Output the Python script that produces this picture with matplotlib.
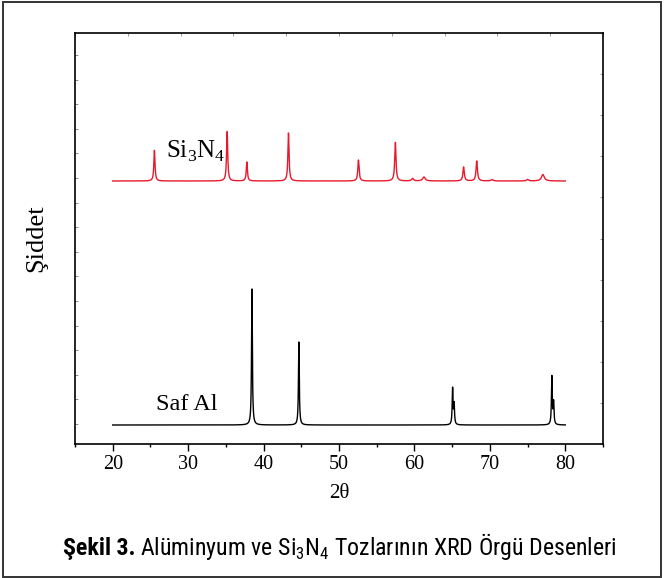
import numpy as np
import matplotlib
matplotlib.use("Agg")
import matplotlib.pyplot as plt
from matplotlib import font_manager
from matplotlib.font_manager import FontProperties
from matplotlib.patches import Rectangle
from matplotlib.ticker import MultipleLocator, FixedLocator

# ---------------- data ----------------
two_theta_start, two_theta_end, two_theta_step = 20.0, 80.0, 0.02

# Pure Al (black): baseline and peaks (position, height above baseline, FWHM)
al_baseline = 19.0
al_pos    = [38.46, 44.68, 65.06, 65.26, 78.22, 78.45]
al_height = [136.0, 83.0, 36.0, 20.0, 48.0, 22.0]
al_fwhm   = [0.13, 0.13, 0.13, 0.13, 0.13, 0.13]

# Si3N4 (red)
sn_baseline = 263.0
sn_pos    = [25.53, 35.17, 37.78, 43.30, 52.58, 57.47, 59.76, 61.26, 66.52, 68.26, 70.3, 75.0, 77.03]
sn_height = [31.0, 50.0, 19.0, 48.0, 21.0, 39.0, 2.5, 4.0, 14.0, 20.0, 1.5, 1.5, 6.5]
sn_fwhm   = [0.18, 0.18, 0.18, 0.18, 0.20, 0.20, 0.3, 0.4, 0.22, 0.22, 0.3, 0.3, 0.45]

x_ticks = [20, 30, 40, 50, 60, 70, 80]
x_label = "2θ"
y_label = "Şiddet"
label_al = "Saf Al"
label_sn = r"Si$_\mathdefault{3}$N$_\mathdefault{4}$"
caption_bold = "Şekil 3."
caption_rest = r"Alüminyum ve Si$_\mathdefault{3}$N$_\mathdefault{4}$ Tozlarının XRD Örgü Desenleri"

# ---------------- build profiles ----------------
tt = np.arange(two_theta_start, two_theta_end + 1e-9, two_theta_step)

def pattern(base, pos, h, w):
    y = np.full_like(tt, base)
    for p, hh, ww in zip(pos, h, w):
        g = (ww / 2.0) ** 2
        y += hh * g / ((tt - p) ** 2 + g)
    return y

y_al = pattern(al_baseline, al_pos, al_height, al_fwhm)
y_sn = pattern(sn_baseline, sn_pos, sn_height, sn_fwhm)

# ---------------- fonts ----------------
serif = "Liberation Serif"

def find_condensed():
    reg, bold = None, None
    pref = ["Liberation Sans Narrow", "Roboto Condensed", "Open Sans Condensed",
            "Noto Sans", "DejaVu Sans", "Roboto", "Open Sans"]
    entries = font_manager.fontManager.ttflist
    for fam in pref:
        for f in entries:
            if f.name != fam and not f.name.startswith(fam):
                continue
            st = str(f.stretch).lower()
            condensed = ("narrow" in f.name.lower() or "condensed" in f.name.lower()
                         or "condensed" in st or (st.isdigit() and int(st) < 500))
            if not condensed or f.style != "normal":
                continue
            if "semi" in f.name.lower() or "extra" in f.name.lower():
                continue
            w = f.weight if isinstance(f.weight, int) else (700 if "bold" in str(f.weight) else 400)
            if w == 400 and reg is None:
                reg = f.fname
            if w == 700 and bold is None:
                bold = f.fname
        if reg and bold:
            return reg, bold
        reg, bold = None, None
    return None, None

reg_file, bold_file = find_condensed()
cap_size = 16.0
if reg_file:
    cap_reg = FontProperties(fname=reg_file, size=cap_size)
    cap_bold = FontProperties(fname=bold_file, size=cap_size)
else:
    cap_size = 14.0
    cap_reg = FontProperties(family="Liberation Sans", size=cap_size)
    cap_bold = FontProperties(family="Liberation Sans", weight="bold", size=cap_size)

plt.rcParams["mathtext.fontset"] = "custom"
plt.rcParams["mathtext.rm"] = serif
plt.rcParams["font.family"] = [serif, "DejaVu Serif"]

W, H = 664, 578
fig = plt.figure(figsize=(W / 100, H / 100), dpi=100)
ax = fig.add_axes([75 / W, 1 - 444 / H, (603 - 75) / W, (444 - 33) / H])

ax.plot(tt, y_sn, color="#e8192c", lw=1.0)
ax.plot(tt, y_al, color="black", lw=1.0)

ax.set_xlim(15, 85)
ax.set_ylim(0, 411)

ax.xaxis.set_major_locator(FixedLocator(x_ticks))
ax.xaxis.set_minor_locator(MultipleLocator(5))
ax.tick_params(axis="x", which="major", direction="out", length=5, width=1.0,
               labelsize=14.5, pad=3, top=False)
ax.tick_params(axis="x", which="minor", direction="out", length=2.5, width=1.0, top=False)
ax.yaxis.set_major_locator(FixedLocator(np.arange(20, 400, 24.6)))
ax.tick_params(axis="y", which="both", direction="in", length=2, width=0.6,
               color="#777777", labelleft=False, right=False)
for s in ax.spines.values():
    s.set_linewidth(1.2)

# faint ticks on top / right
secx = ax.secondary_xaxis("top")
secx.set_xticks(np.linspace(15, 85, 11))
secx.tick_params(direction="in", length=2, width=0.6, color="#888888", labeltop=False)
secx.spines["top"].set_visible(False)
secy = ax.secondary_yaxis("right")
secy.set_yticks(np.linspace(0, 411, 11))
secy.tick_params(direction="in", length=2, width=0.6, color="#888888", labelright=False)
secy.spines["right"].set_visible(False)

ax.set_xlabel(x_label, fontsize=15, labelpad=7)
ax.set_ylabel(y_label, fontsize=19, labelpad=20)

ax.text(27.0, 286.0, label_sn, fontsize=18, ha="left", va="baseline")
ax.text(25.76, 34.0, label_al, fontsize=17.5, ha="left", va="baseline")

# caption: bold part then regular part, fitted to the reference span (63..617 px)
base_y = 1 - 555 / H
t1 = fig.text(0, base_y, caption_bold, fontproperties=cap_bold, ha="left", va="baseline")
t2 = fig.text(0, base_y, caption_rest, fontproperties=cap_reg, ha="left", va="baseline")
fig.canvas.draw()
gap = 5
total = t1.get_window_extent().width + gap + t2.get_window_extent().width
scale = (617 - 63) / total
t1.set_fontsize(cap_size * scale)
t2.set_fontsize(cap_size * scale)
fig.canvas.draw()
w1 = t1.get_window_extent().width
w2 = t2.get_window_extent().width
total = w1 + gap + w2
x0 = 340 - total / 2
t1.set_x(x0 / W)
t2.set_x((x0 + w1 + gap) / W)

# outer frame
fig.patches.append(Rectangle((3 / W, 1 / H), (661 - 3) / W, (576 - 1) / H,
                             transform=fig.transFigure, fill=False,
                             edgecolor="#333333", lw=1.4))

fig.savefig("out.png", dpi=100)
